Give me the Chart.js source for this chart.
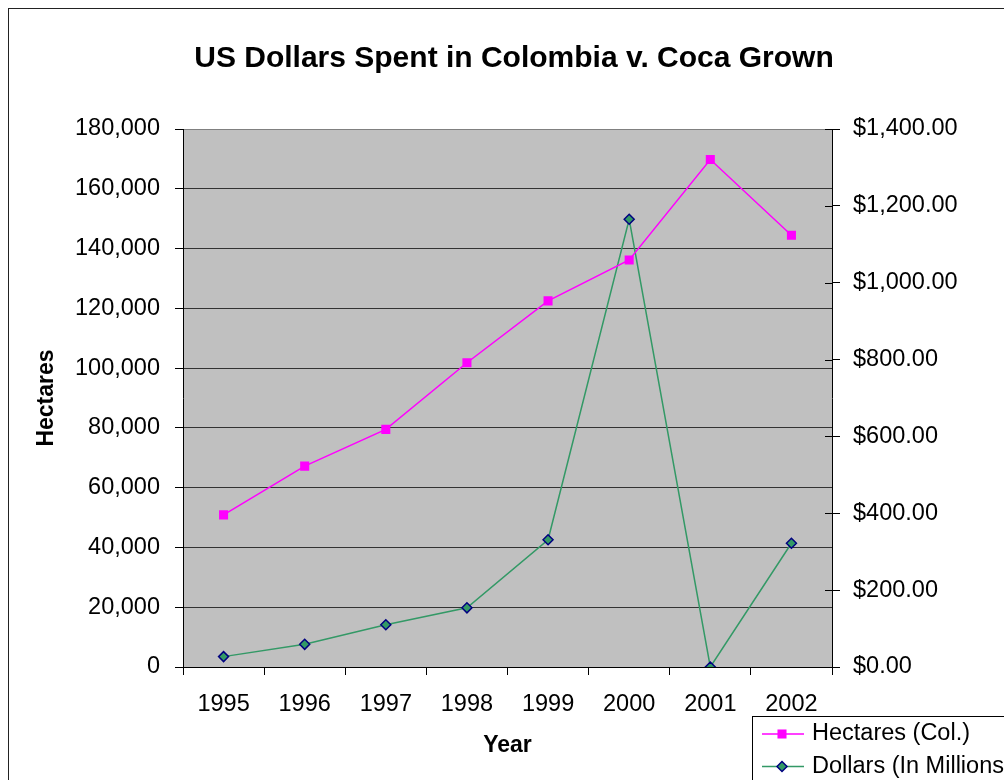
<!DOCTYPE html>
<html>
<head>
<meta charset="utf-8">
<title>US Dollars Spent in Colombia v. Coca Grown</title>
<script src="https://cdn.jsdelivr.net/npm/chart.js@4.4.1/dist/chart.umd.min.js"></script>
<style>
  html, body { margin: 0; padding: 0; overflow: hidden; background: #fff; }
  #frame {
    position: absolute; left: 8px; top: 8px;
    width: 1010px; height: 790px;
    border-top: 1px solid #222; border-left: 1px solid #222;
  }
  #chart { display: block; }
</style>
</head>
<body>
<div id="frame"><canvas id="chart" width="1010" height="790"></canvas></div>
<script>
// Data
const years = ['1995', '1996', '1997', '1998', '1999', '2000', '2001', '2002'];
const hectares = [50900, 67200, 79500, 101800, 122500, 136200, 169800, 144450];
const dollars = [27, 59, 110, 154, 331, 1165, 0, 322];

const hectareAxis = [0, 180000, 20000]; // min, max, step
const dollarAxis = [0, 1400, 200];

const FONT = "'Liberation Sans', Arial, sans-serif";
const TICK_FONT = { family: FONT, size: 23.5 };

// gray plot area like the old Excel charts
const plotBackground = {
    id: 'plotBackground',
    beforeDraw(chart) {
        const { ctx, chartArea: a } = chart;
        ctx.save();
        ctx.fillStyle = '#C0C0C0';
        ctx.fillRect(a.left, a.top, a.right - a.left, a.bottom - a.top);
        ctx.restore();
    }
};

// right axis ticks cross the axis line, Chart.js only draws the outer half
const innerTicks = {
    id: 'innerTicks',
    afterDraw(chart) {
        const scale = chart.scales.y1;
        const ctx = chart.ctx;
        ctx.save();
        ctx.strokeStyle = '#000';
        ctx.lineWidth = 1;
        scale.ticks.forEach(t => {
            const y = Math.round(scale.getPixelForValue(t.value)) + 0.5;
            ctx.beginPath();
            ctx.moveTo(scale.left - 7, y);
            ctx.lineTo(scale.left, y);
            ctx.stroke();
        });
        ctx.restore();
    }
};

// boxed legend with line + marker samples, sitting at the bottom right
const boxLegend = {
    id: 'boxLegend',
    afterDraw(chart) {
        const ctx = chart.ctx;
        const left = 743, top = 707;
        ctx.save();
        ctx.fillStyle = '#fff';
        ctx.fillRect(left, top, 300, 100);
        ctx.strokeStyle = '#000';
        ctx.lineWidth = 1;
        ctx.strokeRect(left + 0.5, top + 0.5, 300, 100);

        chart.data.datasets.forEach((ds, i) => {
            const y = top + 18 + i * 32.5;
            ctx.strokeStyle = ds.borderColor;
            ctx.lineWidth = ds.borderWidth;
            ctx.beginPath();
            ctx.moveTo(left + 10, y);
            ctx.lineTo(left + 52, y);
            ctx.stroke();

            ctx.fillStyle = ds.pointBackgroundColor;
            ctx.strokeStyle = ds.pointBorderColor;
            Chart.helpers.drawPoint(ctx, {
                pointStyle: ds.pointStyle,
                radius: ds.pointRadius,
                rotation: 0,
                borderWidth: ds.pointBorderWidth
            }, left + 30, y);

            ctx.fillStyle = '#000';
            ctx.font = `${TICK_FONT.size}px ${FONT}`;
            ctx.textBaseline = 'middle';
            ctx.textAlign = 'left';
            ctx.fillText(ds.label, left + 60, y);
        });
        ctx.restore();
    }
};

const ctx = document.getElementById('chart').getContext('2d');

new Chart(ctx, {
    type: 'line',
    data: {
        labels: years,
        datasets: [{
            label: 'Hectares (Col.)',
            data: hectares,
            yAxisID: 'y',
            borderColor: '#FF00FF',
            borderWidth: 1.5,
            pointStyle: 'rect',
            pointRadius: 6.4,
            pointBackgroundColor: '#FF00FF',
            pointBorderColor: '#FF00FF',
            pointBorderWidth: 0,
            tension: 0
        }, {
            label: 'Dollars (In Millions)',
            data: dollars,
            yAxisID: 'y1',
            borderColor: '#339966',
            borderWidth: 1.5,
            pointStyle: 'rectRot',
            pointRadius: 5,
            pointBackgroundColor: '#339966',
            pointBorderColor: '#000080',
            pointBorderWidth: 1.5,
            tension: 0
        }]
    },
    options: {
        responsive: false,
        animation: false,
        devicePixelRatio: 1,
        layout: { padding: { left: 0, right: 0, top: 0, bottom: 40 } },
        plugins: {
            legend: { display: false },
            tooltip: { enabled: false },
            title: {
                display: true,
                text: 'US Dollars Spent in Colombia v. Coca Grown',
                color: '#000',
                font: { family: FONT, size: 30, weight: 'bold' },
                padding: { top: 32, bottom: 52 }
            }
        },
        scales: {
            x: {
                offset: true,
                grid: {
                    offset: true,
                    drawOnChartArea: false,
                    drawTicks: true,
                    tickLength: 8,
                    color: '#000'
                },
                border: { display: true, color: '#000', width: 1 },
                ticks: { color: '#000', font: TICK_FONT, padding: 15, maxRotation: 0 },
                title: {
                    display: true,
                    text: 'Year',
                    color: '#000',
                    font: { family: FONT, size: 23, weight: 'bold' },
                    padding: { top: 0, bottom: 0 }
                },
                afterFit(scale) { scale.height = 92; }
            },
            y: {
                position: 'left',
                min: hectareAxis[0],
                max: hectareAxis[1],
                grid: {
                    color: c => (c.tick && c.tick.value === hectareAxis[1]) ? '#808080' : '#333',
                    tickColor: '#000',
                    tickLength: 8,
                    lineWidth: 1
                },
                border: { display: true, color: '#000', width: 1 },
                ticks: {
                    stepSize: hectareAxis[2],
                    color: '#000',
                    font: TICK_FONT,
                    padding: 15,
                    callback: v => v.toLocaleString('en-US')
                },
                title: {
                    display: true,
                    text: 'Hectares',
                    color: '#000',
                    font: { family: FONT, size: 23, weight: 'bold' },
                    padding: { top: 24, bottom: 0 }
                },
                afterFit(scale) { scale.width = 174; }
            },
            y1: {
                position: 'right',
                min: dollarAxis[0],
                max: dollarAxis[1],
                grid: {
                    drawOnChartArea: false,
                    tickColor: '#000',
                    tickLength: 8
                },
                border: { display: true, color: '#000', width: 1 },
                ticks: {
                    stepSize: dollarAxis[2],
                    color: '#000',
                    font: TICK_FONT,
                    padding: 13,
                    callback: v => '$' + v.toLocaleString('en-US', { minimumFractionDigits: 2, maximumFractionDigits: 2 })
                },
                afterFit(scale) { scale.width = 187; }
            }
        }
    },
    plugins: [plotBackground, innerTicks, boxLegend]
});
</script>
</body>
</html>
